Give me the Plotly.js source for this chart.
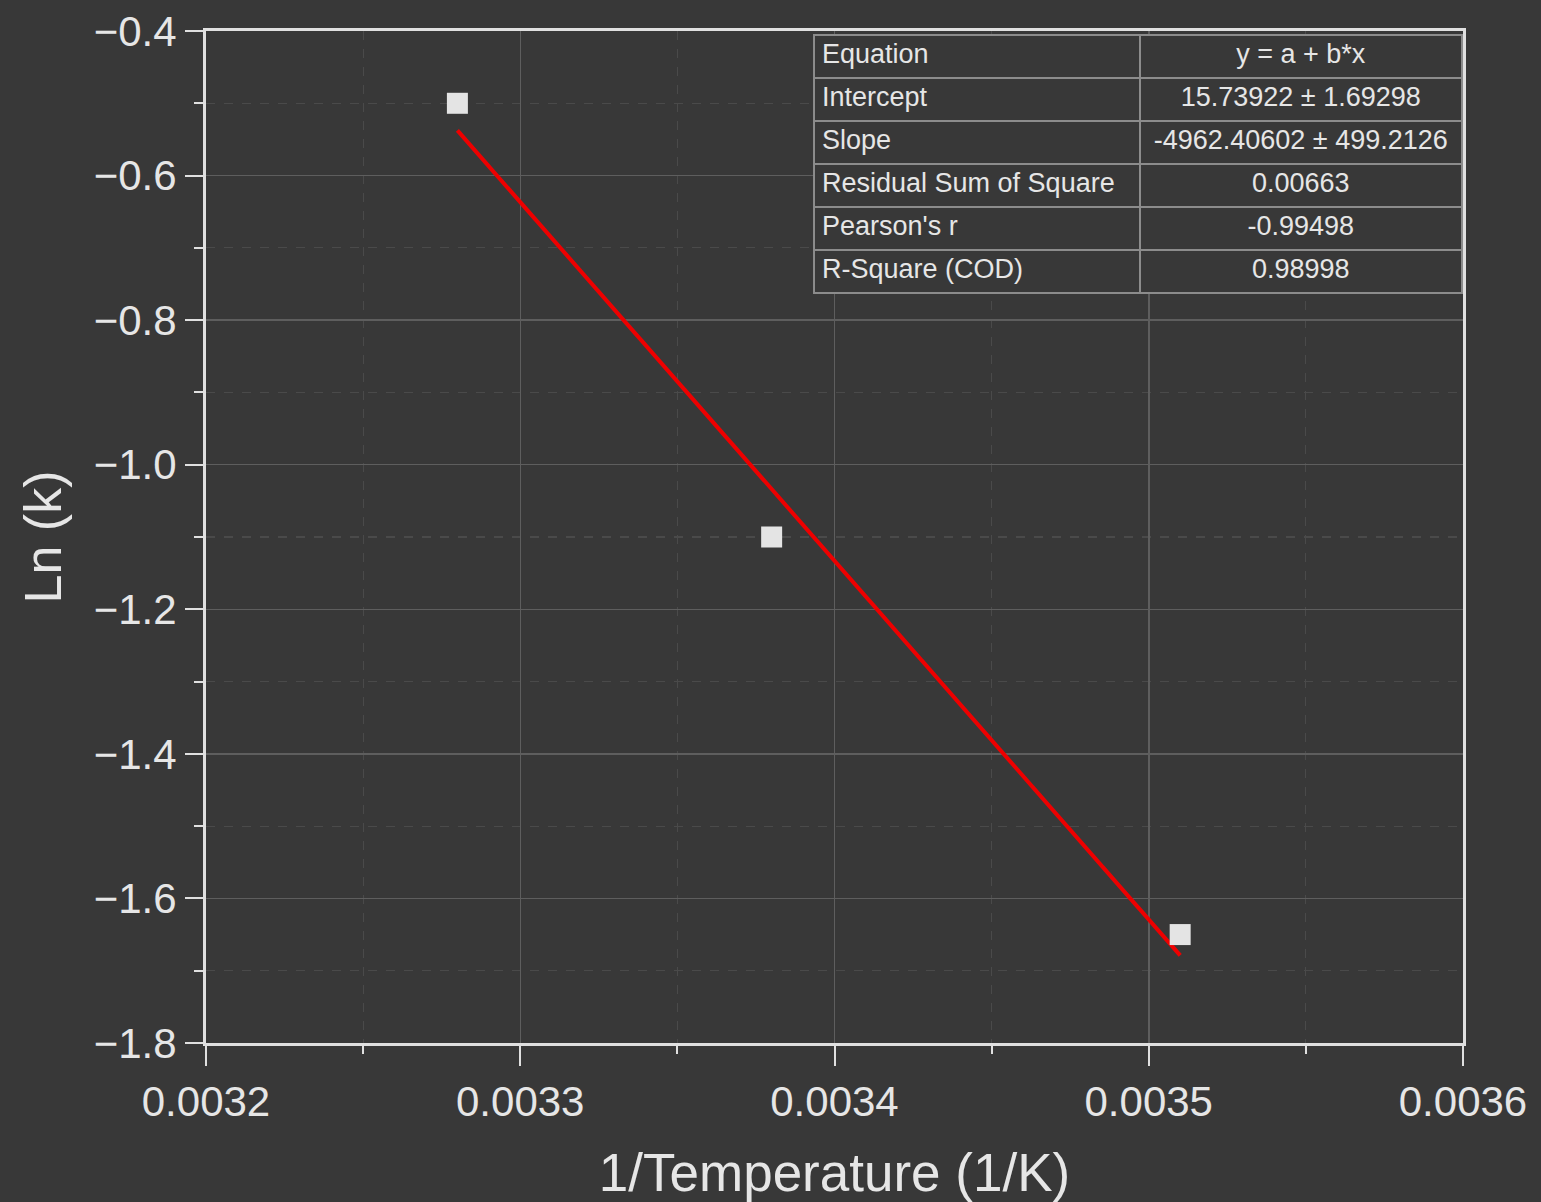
<!DOCTYPE html>
<html>
<head>
<meta charset="utf-8">
<script src="https://cdn.plot.ly/plotly-3.0.1.min.js"></script>
<style>
  html, body { margin: 0; padding: 0; background: #383838; }
  #chart { width: 1541px; height: 1202px; }
</style>
</head>
<body>
<div id="chart"></div>
<script>
// Arrhenius data: ln(k) against reciprocal temperature
const invTemp = [0.00328, 0.00338, 0.00351];
const lnK = [-0.5, -1.1, -1.65];

// Linear fit parameters (y = a + b*x)
const fitIntercept = 15.73922;
const fitSlope = -4962.40602;

// Fit statistics table
const statNames = ["Equation", "Intercept", "Slope", "Residual Sum of Square", "Pearson's r", "R-Square (COD)"];
const statValues = ["y = a + b*x", "15.73922 \u00b1 1.69298", "-4962.40602 \u00b1 499.2126", "0.00663", "-0.99498", "0.98998"];

// Axis ticks
const xTickVals = [0.0032, 0.0033, 0.0034, 0.0035, 0.0036];
const xTickText = ["0.0032", "0.0033", "0.0034", "0.0035", "0.0036"];
const yTickVals = [-0.4, -0.6, -0.8, -1.0, -1.2, -1.4, -1.6, -1.8];
const yTickText = ["\u22120.4", "\u22120.6", "\u22120.8", "\u22121.0", "\u22121.2", "\u22121.4", "\u22121.6", "\u22121.8"];

const fitX = [Math.min(...invTemp), Math.max(...invTemp)];
const fitY = fitX.map(x => fitIntercept + fitSlope * x);

const BG = '#383838';
const FG = '#e6e6e6';
const FONT = 'Liberation Sans, Arial, sans-serif';

const traces = [
  {
    type: 'scatter', mode: 'lines',
    x: fitX, y: fitY,
    line: { color: '#ee0000', width: 4 },
    hoverinfo: 'skip', showlegend: false
  },
  {
    type: 'scatter', mode: 'markers',
    x: invTemp, y: lnK,
    marker: { symbol: 'square', size: 21, color: '#e4e4e4', line: { width: 0 } },
    showlegend: false
  },
  {
    type: 'table',
    domain: { x: [0.4837, 1.0], y: [0.70, 0.996] },
    columnwidth: [326, 323],
    header: {
      values: [[statNames[0]], [statValues[0]]],
      align: ['left', 'center'],
      height: 43,
      line: { color: '#8c8c8c', width: 2 },
      fill: { color: BG },
      font: { family: FONT, size: 27, color: FG }
    },
    cells: {
      values: [statNames.slice(1), statValues.slice(1)],
      align: ['left', 'center'],
      height: 43,
      line: { color: '#8c8c8c', width: 2 },
      fill: { color: BG },
      font: { family: FONT, size: 27, color: FG }
    }
  }
];

const axisCommon = {
  showline: true, linecolor: '#e0e0e0', linewidth: 3, mirror: true,
  ticks: 'outside', tickcolor: '#e0e0e0', tickwidth: 2,
  showgrid: true, gridcolor: '#5e5e5e', gridwidth: 1.5,
  zeroline: false,
  tickfont: { family: FONT, size: 42, color: FG }
};

const layout = {
  width: 1541, height: 1202,
  margin: { l: 206, r: 78, t: 31, b: 159 },
  paper_bgcolor: BG, plot_bgcolor: BG,
  showlegend: false,
  xaxis: Object.assign({}, axisCommon, {
    range: [0.0032, 0.0036],
    tickmode: 'array', tickvals: xTickVals, ticktext: xTickText,
    ticklen: 20,
    minor: {
      dtick: 0.00005, tick0: 0.0032, ticks: 'outside', ticklen: 8, tickwidth: 2, tickcolor: '#e0e0e0',
      showgrid: true, gridcolor: '#4a4a4a', griddash: 'dash', gridwidth: 1.2
    },
    title: { text: '1/Temperature (1/K)', font: { family: FONT, size: 53, color: FG }, standoff: 36 }
  }),
  yaxis: Object.assign({}, axisCommon, {
    range: [-1.8, -0.4],
    tickmode: 'array', tickvals: yTickVals, ticktext: yTickText,
    ticklen: 18,
    minor: {
      dtick: 0.1, tick0: -1.8, ticks: 'outside', ticklen: 9, tickwidth: 2, tickcolor: '#e0e0e0',
      showgrid: true, gridcolor: '#4a4a4a', griddash: 'dash', gridwidth: 1.2
    },
    title: { text: 'Ln (k)', font: { family: FONT, size: 52, color: FG }, standoff: 16 }
  })
};

Plotly.newPlot('chart', traces, layout, { displayModeBar: false, staticPlot: true });
</script>
</body>
</html>
